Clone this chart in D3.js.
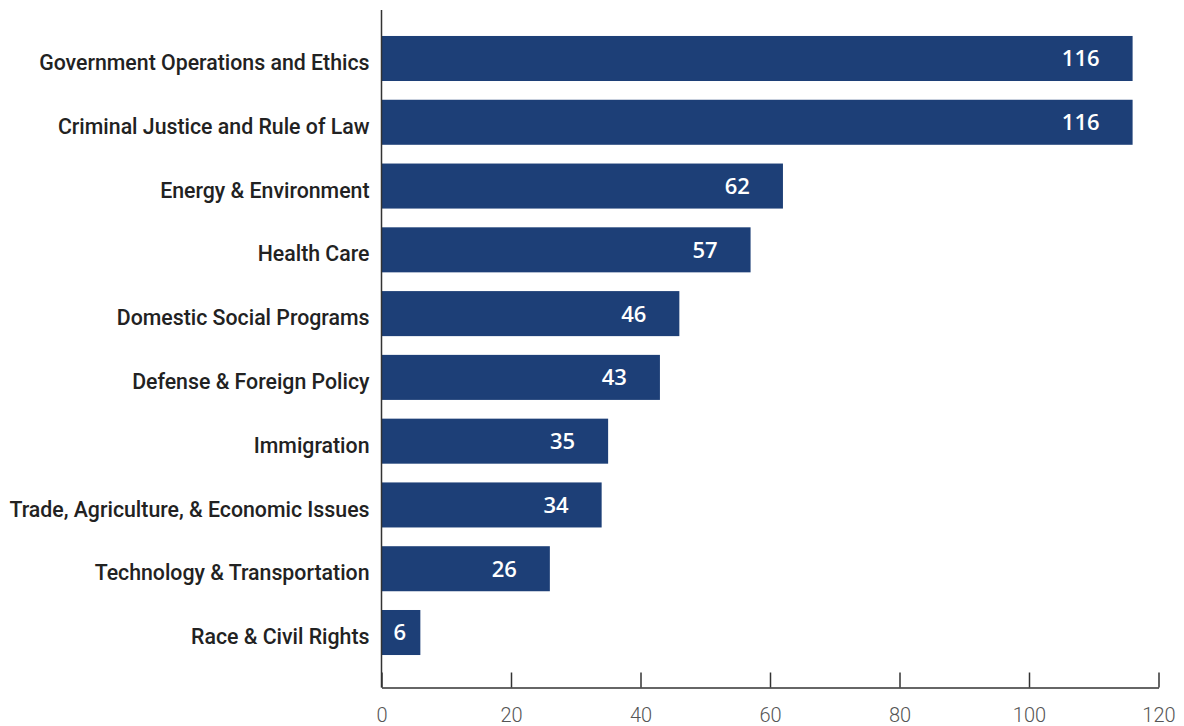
<!DOCTYPE html>
<html>
<head>
<meta charset="utf-8">
<script src="https://cdn.jsdelivr.net/npm/d3@7"></script>
<style>
  html, body { margin: 0; padding: 0; background: #fff; }
  svg { display: block; }
</style>
</head>
<body>
<svg id="chart" width="1184" height="726"></svg>
<script>
// Bills by policy area
const categories = [
  "Government Operations and Ethics",
  "Criminal Justice and Rule of Law",
  "Energy & Environment",
  "Health Care",
  "Domestic Social Programs",
  "Defense & Foreign Policy",
  "Immigration",
  "Trade, Agriculture, & Economic Issues",
  "Technology & Transportation",
  "Race & Civil Rights"
];
const counts = [116, 116, 62, 57, 46, 43, 35, 34, 26, 6];
const xTicks = [0, 20, 40, 60, 80, 100, 120];

const svg = d3.select("#chart");
const x0 = 381.5, x1 = 1158.5;
const axisY = 687.5;

const x = d3.scaleLinear().domain([0, 120]).range([x0, x1]);
const y = d3.scaleBand()
  .domain(categories)
  .range([26.6, 664.4])
  .paddingInner(0.294)
  .paddingOuter(0.147);

// bars
svg.append("g").selectAll("rect")
  .data(categories)
  .join("rect")
  .attr("x", x(0))
  .attr("y", d => y(d))
  .attr("width", (d, i) => x(counts[i]) - x(0))
  .attr("height", y.bandwidth())
  .attr("fill", "#1d3f77");

// value labels inside bars
const vl = svg.append("g").selectAll("text")
  .data(categories)
  .join("text")
  .attr("y", d => y(d) + y.bandwidth() / 2)
  .attr("dy", "0.36em")
  .attr("fill", "#fff")
  .attr("font-family", "'Open Sans', sans-serif")
  .attr("font-weight", 600)
  .attr("font-size", 22)
  .text((d, i) => counts[i]);
vl.each(function(d, i) {
  const w = this.getComputedTextLength();
  let end = x(counts[i]) - 33;
  if (end - w < x(0) + 12) end = x(0) + 12 + w;
  d3.select(this).attr("x", end).attr("text-anchor", "end");
});

// category labels
svg.append("g").selectAll("text")
  .data(categories)
  .join("text")
  .attr("x", x0 - 12)
  .attr("y", d => y(d) + y.bandwidth() / 2 + 4)
  .attr("dy", "0.36em")
  .attr("text-anchor", "end")
  .attr("fill", "#222")
  .attr("font-family", "Roboto, sans-serif")
  .attr("font-weight", 500)
  .attr("font-size", 21.3)
  .text(d => d);

// vertical axis line
svg.append("line")
  .attr("x1", x0).attr("x2", x0)
  .attr("y1", 10).attr("y2", axisY)
  .attr("stroke", "#333").attr("stroke-width", 1.5);

// bottom axis
const xAxis = d3.axisBottom(x)
  .tickValues(xTicks)
  .tickSize(-15)
  .tickPadding(20)
  .tickSizeOuter(0);
const gx = svg.append("g")
  .attr("transform", `translate(0,${axisY})`)
  .call(xAxis);
gx.select(".domain").attr("stroke", "#333").attr("stroke-width", 1.5);
gx.selectAll(".tick line").attr("stroke", "#333").attr("stroke-width", 1.5);
gx.selectAll(".tick text")
  .attr("fill", "#555")
  .attr("font-family", "Roboto, sans-serif")
  .attr("font-weight", 300)
  .attr("font-size", 20);
</script>
</body>
</html>
